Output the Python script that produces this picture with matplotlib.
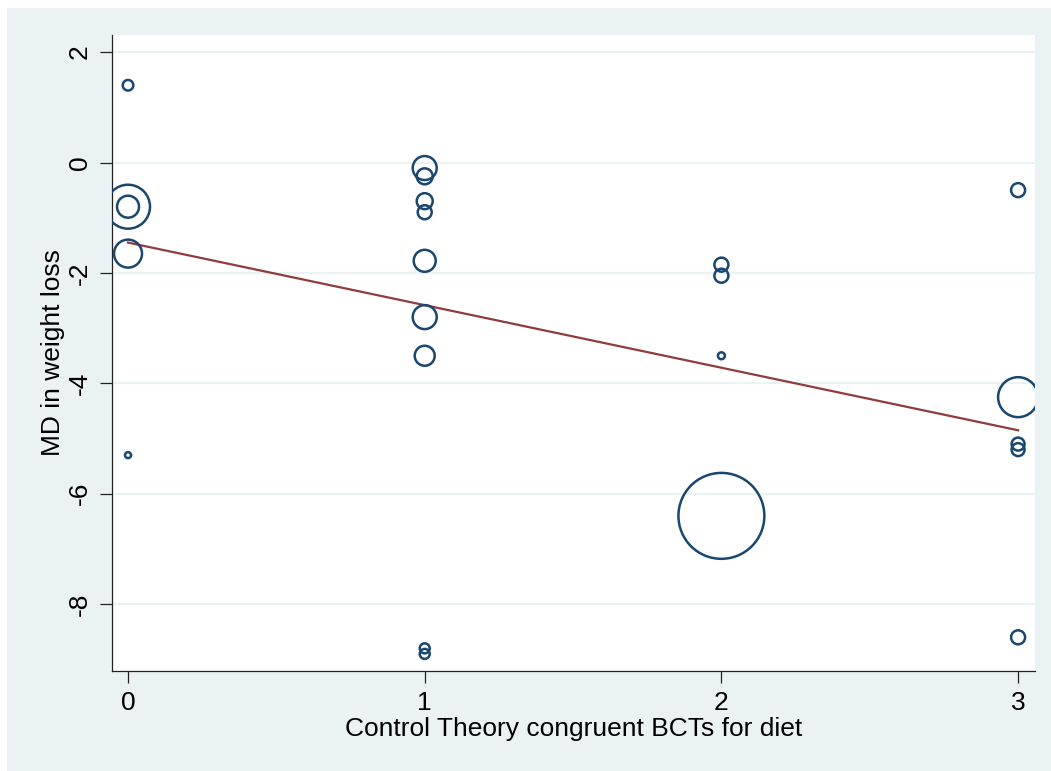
import numpy as np
import matplotlib
matplotlib.use("Agg")
import matplotlib.pyplot as plt
from matplotlib.patches import Rectangle

plt.rcParams['font.family'] = ['Liberation Sans', 'DejaVu Sans']

# studies: number of Control Theory BCTs, mean difference, study weight
bcts = [0, 0, 0, 0, 0,
        1, 1, 1, 1, 1, 1, 1, 1, 1,
        2, 2, 2, 2,
        3, 3, 3, 3, 3]
md = [1.4, -0.8, -0.8, -1.65, -5.3,
      -0.1, -0.25, -0.7, -0.9, -1.78, -2.8, -3.5, -8.8, -8.9,
      -1.85, -2.05, -3.5, -6.4,
      -0.5, -4.25, -5.1, -5.2, -8.6]
weight = [2.8, 48.4, 12.1, 19.6, 0.9,
          14.4, 6.4, 6.4, 4.9, 12.1, 14.4, 10.0, 2.5, 2.5,
          4.9, 4.9, 1.2, 184.9,
          4.9, 40.0, 4.2, 4.2, 4.9]

# fitted meta-regression line
fit_x = [0, 3]
fit_y = [-1.45, -4.85]

yticks = [2, 0, -2, -4, -6, -8]
xticks = [0, 1, 2, 3]

fig = plt.figure(figsize=(10.51, 7.71), dpi=100)
fig.patch.set_facecolor('white')
fig.patches.append(Rectangle((7 / 1051, 0), 1, 1 - 8 / 771, transform=fig.transFigure,
                             facecolor='#EAF2F3', edgecolor='none', zorder=-1))

ax = fig.add_axes([112 / 1051, 1 - 671 / 771, (1035 - 112) / 1051, (671 - 35) / 771])
ax.set_facecolor('white')

sizes = np.array(weight) * 20.7
ax.scatter(bcts, md, s=sizes, facecolors='none', edgecolors='#1A476F', linewidths=1.8, zorder=3)
ax.plot(fit_x, fit_y, color='#903C3C', lw=1.6, zorder=2)

ax.set_xlim(-0.054, 3.057)
ax.set_ylim(-9.21, 2.31)
ax.set_yticks(yticks)
ax.set_xticks(xticks)
ax.set_yticklabels([str(t) for t in yticks], rotation=90, va='center')
ax.grid(axis='y', color='#EAF2F3', lw=1.6, zorder=0)
ax.set_axisbelow(True)

for s in ['top', 'right']:
    ax.spines[s].set_visible(False)
for s in ['left', 'bottom']:
    ax.spines[s].set_color('#222222')
    ax.spines[s].set_linewidth(0.9)

ax.tick_params(axis='both', length=8.5, width=0.9, color='#222222', labelsize=19, pad=6)
ax.set_xlabel('Control Theory congruent BCTs for diet', fontsize=19, labelpad=1)
ax.set_ylabel('MD in weight loss', fontsize=19, labelpad=2)

fig.savefig('out.png', dpi=100, facecolor=fig.get_facecolor())
